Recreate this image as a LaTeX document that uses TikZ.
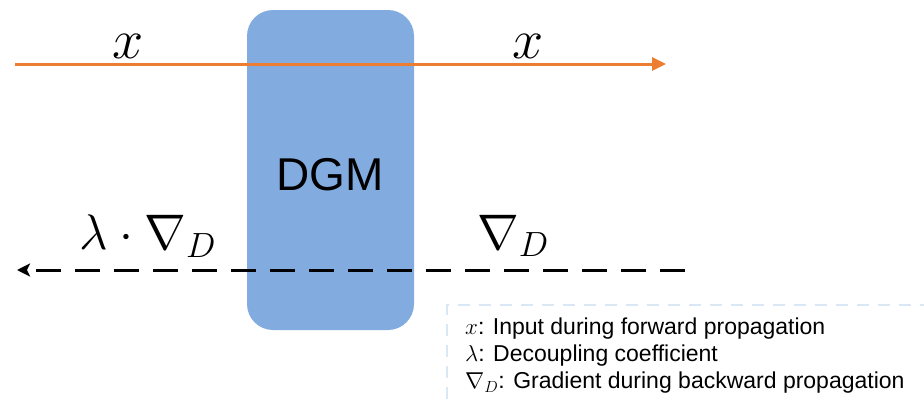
\RequirePackage{fix-cm}
\documentclass[tikz,border=0pt]{standalone}
\usepackage{fontspec}
\setmainfont{Liberation Sans}
\usetikzlibrary{arrows.meta}
\definecolor{dgmblue}{RGB}{130,172,223}
\definecolor{fwdorange}{RGB}{237,125,49}
\definecolor{legendblue}{RGB}{218,232,246}
\newcommand{\legmath}[1]{{\fontsize{23}{27}\selectfont$#1$}}
\tikzset{
  dgmbox/.style={fill=dgmblue, draw=none, rounded corners=26pt, inner sep=0pt},
  bigmath/.style={font=\fontsize{50}{58}\selectfont, inner sep=0pt},
  xmath/.style={font=\fontsize{56}{64}\selectfont, inner sep=0pt},
  legendtext/.style={font=\fontsize{23}{27}\selectfont, align=left, inner sep=0pt, anchor=west}
}
\begin{document}
\begin{tikzpicture}[x=1pt,y=-1pt]
\useasboundingbox (0,0) rectangle (924,405);
\clip (0,0) rectangle (924,405);
% legend box (clipped at right and bottom)
\draw[legendblue, line width=2.5pt, dash pattern=on 12pt off 9pt] (447,420) -- (447,305) -- (940,305);
\node[legendtext] (leg) at (465,356) {\legmath{x}: Input during forward propagation\\
\legmath{\lambda}: Decoupling coefficient\\
\legmath{\nabla_D}: Gradient during backward propagation};
% DGM box
\node[dgmbox, minimum width=167pt, minimum height=320pt] (dgm) at (330.5,170) {};
\node[font=\fontsize{46}{54}\selectfont] (dgmlabel) at (330,175) {DGM};
% forward arrow
\coordinate (fs) at (15,64);
\coordinate (fe) at (666,64);
\draw[fwdorange, line width=3pt, -{Triangle[length=14pt,width=13pt]}] (fs) -- (fe);
\node[xmath] (x1) at (128,46) {$x$};
\node[xmath] (x2) at (528,46) {$x$};
% backward dashed arrow
\coordinate (bs) at (685,270);
\coordinate (be) at (17,270);
\draw[black, line width=3pt, dash pattern=on 25pt off 14pt, -{Stealth[length=13pt,width=13pt,inset=3pt]}] (bs) -- (be);
\node[bigmath] (lg) at (148,236) {$\lambda\cdot\nabla_D$};
\node[bigmath] (g) at (513,236) {$\nabla_D$};
\end{tikzpicture}
\end{document}
